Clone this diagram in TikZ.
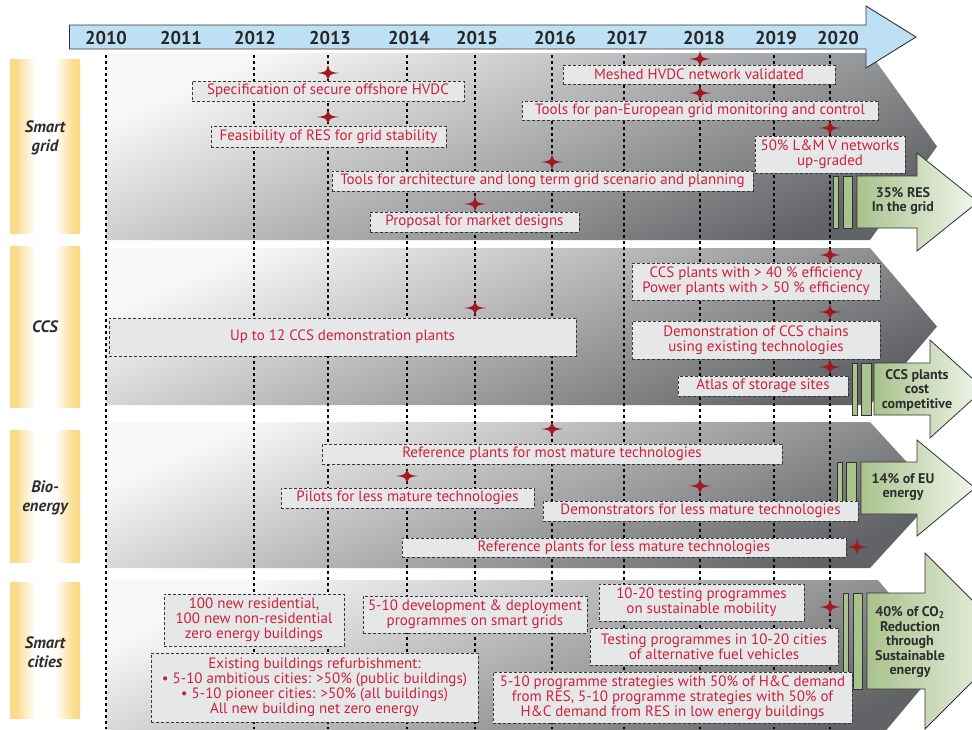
\documentclass[tikz,border=0pt]{standalone}
\usepackage{fontspec}
\setmainfont{PT Sans}
\definecolor{redtxt}{RGB}{204,34,60}
\definecolor{starred}{RGB}{158,27,36}
\definecolor{boxfill}{RGB}{230,231,232}
\definecolor{boxline}{RGB}{55,55,55}
\definecolor{yel}{RGB}{249,219,138}
\definecolor{tlblue}{RGB}{190,224,245}
\definecolor{grn}{RGB}{168,195,140}
\definecolor{grnlight}{RGB}{243,246,238}
\definecolor{bandlight}{RGB}{248,248,248}
\definecolor{bandmid}{RGB}{188,188,190}
\definecolor{banddark}{RGB}{98,99,102}
\definecolor{labtxt}{RGB}{45,45,45}
\pgfdeclarehorizontalshading{yelshade}{100bp}{color(0bp)=(yel); color(25bp)=(yel); color(29bp)=(yel); color(43bp)=(white); color(57bp)=(white); color(71bp)=(yel); color(75bp)=(yel); color(100bp)=(yel)}
\newcommand\rbox[6]{\node[box,minimum width=#4pt,minimum height=#5pt] (#1) at (#2,#3) {#6};}
\begin{document}
\begin{tikzpicture}[x=1pt,y=-1pt,
  box/.style={draw=boxline, fill=boxfill, line width=0.8pt, dash pattern=on 3pt off 2pt, text=redtxt, font=\fontsize{15}{15}\selectfont, align=center, inner sep=0pt},
  band/.style={top color=bandlight, middle color=bandmid, bottom color=banddark, shading angle=24},
  vline/.style={black, line width=1.6pt, dash pattern=on 3pt off 3pt},
  year/.style={font=\bfseries\fontsize{18.5}{18.5}\selectfont, text=black!85, inner sep=0pt},
  labshade/.style={shading=yelshade},
  labtext/.style={inner sep=0pt, text=labtxt, font=\bfseries\itshape\fontsize{16.5}{19}\selectfont, align=center},
  gbar/.style={fill=grn, draw=black!80, line width=0.6pt},
  garrow/.style={left color=grn, right color=grnlight, draw=black!80, line width=0.8pt},
  gtxt/.style={font=\bfseries\fontsize{14}{14.5}\selectfont, text=labtxt, align=center, inner sep=0pt},
  msstar/.pic={\fill[starred] (11,0) .. controls (1.5,1.2) .. (0,8.5) .. controls (-1.5,1.2) .. (-11,0) .. controls (-1.5,-1.2) .. (0,-8.5) .. controls (1.5,-1.2) .. (11,0) -- cycle;}
]
\useasboundingbox (0,0) rectangle (972,729);
\fill[white] (0,0) rectangle (972,729);
% bands
\shade[band] (106,53) -- (870,53) -- (937,146.5) -- (870,240) -- (106,240) -- cycle;
\shade[band] (106,248) -- (870,248) -- (937,326.5) -- (870,405) -- (106,405) -- cycle;
\shade[band] (106,422) -- (870,422) -- (937,495) -- (870,568) -- (106,568) -- cycle;
\shade[band] (106,580) -- (878,580) -- (945,660) -- (878,740) -- (106,740) -- cycle;
% year lines
\foreach \x in {106,254,328,407,475,552,624,700,774,830}
  \draw[vline] (\x,55) -- (\x,729);
% left labels
\shade[labshade] (10,59) rectangle (80,233);
\shade[labshade] (10,246) rectangle (80,407);
\shade[labshade] (10,430) rectangle (80,562);
\shade[labshade] (10,582) rectangle (80,718);
\node[labtext] (lsg) at (45,138) {Smart\\grid};
\node[labtext] (lccs) at (45,327) {CCS};
\node[labtext] (lbio) at (45,498) {Bio-\\energy};
\node[labtext] (lsc) at (45,652) {Smart\\cities};
% green bars and arrows
\draw[gbar] (833,176) rectangle (838,228);
\draw[gbar] (843,176) rectangle (852,228);
\draw[garrow] (857,176) -- (917,176) -- (917,153) -- (978,202) -- (917,251) -- (917,228) -- (857,228) -- cycle;
\node[gtxt] (a1) at (903,201) {35\% RES\\In the grid};
\draw[gbar] (852,363) rectangle (857,415);
\draw[gbar] (861,363) rectangle (871,415);
\draw[garrow] (874,363) -- (930,363) -- (930,340) -- (984,389) -- (930,438) -- (930,415) -- (874,415) -- cycle;
\node[gtxt] (a2) at (917,390) {CCS plants\\cost\\competitive};
\draw[gbar] (837,462) rectangle (842,514);
\draw[gbar] (846,462) rectangle (856,514);
\draw[garrow] (861,462) -- (917,462) -- (917,440) -- (975,488) -- (917,536) -- (917,514) -- (861,514) -- cycle;
\node[gtxt] (a3) at (903,487) {14\% of EU\\energy};
\draw[gbar] (843,593) rectangle (848,689);
\draw[gbar] (853,593) rectangle (862,689);
\draw[garrow] (867,593) -- (925,593) -- (925,553) -- (1013,641) -- (925,729) -- (925,689) -- (867,689) -- cycle;
\node[gtxt] (a4) at (910,642) {40\% of CO$_{\mathbf 2}$\\Reduction\\through\\Sustainable\\energy};
% smart grid
\rbox{b1}{328}{91}{272}{20}{Specification of secure offshore HVDC}
\rbox{b2}{328.5}{136.5}{235}{21}{Feasibility of RES for grid stability}
\rbox{b3}{542.5}{181}{421}{20}{Tools for architecture and long term grid scenario and planning}
\rbox{b4}{474.5}{222}{209}{20}{Proposal for market designs}
\rbox{b5}{699}{74.5}{272}{19}{Meshed HVDC network validated}
\rbox{b6}{700}{110.5}{356}{19}{Tools for pan-European grid monitoring and control}
\rbox{b7}{830}{154.5}{150}{37}{50\% L\&M V networks\\up-graded}
% CCS
\rbox{c1}{342.5}{337}{467}{38}{Up to 12 CCS demonstration plants}
\rbox{c2}{756}{281.5}{248}{37}{CCS plants with > 40 \% efficiency\\Power plants with > 50 \% efficiency}
\rbox{c3}{756}{340}{248}{38}{Demonstration of CCS chains\\using existing technologies}
\rbox{c4}{763}{386}{170}{20}{Atlas of storage sites}
% bio
\rbox{e1}{552}{454}{460}{20}{Reference plants for most mature technologies}
\rbox{e2}{407.5}{498}{253}{20}{Pilots for less mature technologies}
\rbox{e3}{700.5}{511}{315}{20}{Demonstrators for less mature technologies}
\rbox{e4}{624}{547.5}{444}{19}{Reference plants for less mature technologies}
% cities
\rbox{s1}{254}{620}{180}{52}{100 new residential,\\100 new non-residential\\zero energy buildings}
\rbox{s2}{314.5}{687.5}{327}{69}{Existing buildings refurbishment:\\\textbullet{} 5-10 ambitious cities: >50\% (public buildings)\\\textbullet{} 5-10 pioneer cities: >50\% (all buildings)\\All new building net zero energy}
\rbox{s3}{475}{614.5}{224}{37}{5-10 development \& deployment\\programmes on smart grids}
\rbox{s4}{701.5}{602.5}{205}{37}{10-20 testing programmes\\on sustainable mobility}
\rbox{s5}{714}{646.5}{248}{37}{Testing programmes in 10-20 cities\\of alternative fuel vehicles}
\rbox{s6}{672.5}{697.5}{359}{51}{5-10 programme strategies with 50\% of H\&C demand\\from RES, 5-10 programme strategies with 50\% of\\H\&C demand from RES in low energy buildings}
% stars
\foreach \p in {(328,73),(328,117),(552,162),(475,204),(700,59),(700,93),(830,128),
  (475,308),(830,255),(830,312),(830,367),
  (552,429),(407,476),(700,486),(857,547),(830,607)}
  \pic at \p {msstar};
% timeline
\draw[fill=tlblue, draw=black!80, line width=0.9pt] (69.5,25) -- (866,25) -- (866,6) -- (916,37) -- (866,68) -- (866,49) -- (69.5,49) -- cycle;
\foreach \x/\yr in {106/2010,181/2011,255/2012,330/2013,409/2014,477/2015,555/2016,627/2017,704/2018,776/2019,838/2020}
  \node[year] (y\yr) at (\x,38) {\yr};
\end{tikzpicture}
\end{document}
